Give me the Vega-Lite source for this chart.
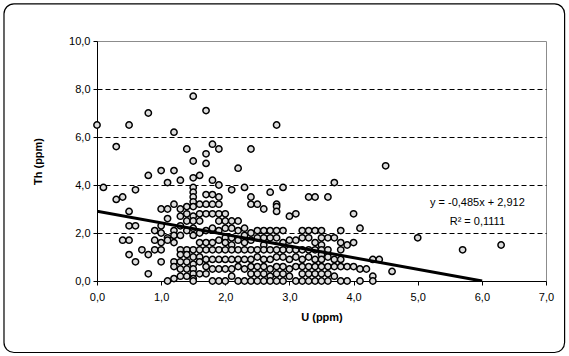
{
  "$schema": "https://vega.github.io/schema/vega-lite/v6.json",
  "width": 449,
  "height": 240,
  "autosize": {"type": "none"},
  "padding": {"left": 97, "top": 41, "right": 23, "bottom": 75},
  "background": "white",
  "config": {
    "view": {"stroke": "#8c8c8c", "strokeWidth": 1},
    "font": "Liberation Sans",
    "axis": {
      "domainColor": "black", "domainWidth": 1, "tickColor": "black", "tickSize": 4, "tickWidth": 1,
      "labelFont": "Liberation Sans", "labelFontSize": 11, "labelColor": "black",
      "titleFont": "Liberation Sans", "titleFontSize": 11, "titleFontWeight": "bold", "titleColor": "black",
      "labelOverlap": false, "labelFlush": false
    }
  },
  "datasets": {
    "pts": [
      {"U":0.0,"Th":6.5},{"U":0.1,"Th":3.9},{"U":0.3,"Th":5.6},{"U":0.3,"Th":3.4},{"U":0.4,"Th":3.5},{"U":0.4,"Th":1.7},
      {"U":0.5,"Th":6.5},{"U":0.5,"Th":2.9},{"U":0.5,"Th":2.3},{"U":0.5,"Th":1.7},{"U":0.5,"Th":1.1},
      {"U":0.6,"Th":3.8},{"U":0.6,"Th":2.3},{"U":0.6,"Th":0.8},{"U":0.7,"Th":1.3},
      {"U":0.8,"Th":7.0},{"U":0.8,"Th":4.4},{"U":0.8,"Th":1.1},{"U":0.8,"Th":0.3},
      {"U":0.9,"Th":2.1},{"U":0.9,"Th":1.7},{"U":0.9,"Th":1.3},
      {"U":1.0,"Th":4.6},{"U":1.0,"Th":3.0},{"U":1.0,"Th":2.3},{"U":1.0,"Th":2.0},{"U":1.0,"Th":1.6},{"U":1.0,"Th":1.3},{"U":1.0,"Th":0.8},
      {"U":1.1,"Th":4.1},{"U":1.1,"Th":3.0},{"U":1.1,"Th":2.6},{"U":1.1,"Th":1.8},{"U":1.1,"Th":1.7},{"U":1.1,"Th":0.0},
      {"U":1.2,"Th":6.2},{"U":1.2,"Th":4.6},{"U":1.2,"Th":3.2},{"U":1.2,"Th":2.1},{"U":1.2,"Th":1.9},{"U":1.2,"Th":1.6},{"U":1.2,"Th":0.8},{"U":1.2,"Th":0.6},{"U":1.2,"Th":0.1},
      {"U":1.3,"Th":4.2},{"U":1.3,"Th":3.0},{"U":1.3,"Th":2.7},{"U":1.3,"Th":2.3},{"U":1.3,"Th":1.9},{"U":1.3,"Th":1.3},{"U":1.3,"Th":1.1},{"U":1.3,"Th":0.8},{"U":1.3,"Th":0.5},{"U":1.3,"Th":0.2},
      {"U":1.4,"Th":5.5},{"U":1.4,"Th":3.1},{"U":1.4,"Th":2.8},{"U":1.4,"Th":2.5},{"U":1.4,"Th":2.1},{"U":1.4,"Th":1.3},{"U":1.4,"Th":1.1},{"U":1.4,"Th":0.8},{"U":1.4,"Th":0.5},{"U":1.4,"Th":0.2},
      {"U":1.5,"Th":7.7},{"U":1.5,"Th":5.0},{"U":1.5,"Th":4.3},{"U":1.5,"Th":3.9},{"U":1.5,"Th":3.7},{"U":1.5,"Th":3.5},{"U":1.5,"Th":3.3},{"U":1.5,"Th":3.1},{"U":1.5,"Th":2.7},{"U":1.5,"Th":2.5},{"U":1.5,"Th":2.2},{"U":1.5,"Th":1.9},{"U":1.5,"Th":1.3},{"U":1.5,"Th":1.0},{"U":1.5,"Th":0.7},{"U":1.5,"Th":0.5},{"U":1.5,"Th":0.3},{"U":1.5,"Th":0.1},{"U":1.5,"Th":0.0},
      {"U":1.6,"Th":4.4},{"U":1.6,"Th":3.2},{"U":1.6,"Th":2.8},{"U":1.6,"Th":2.5},{"U":1.6,"Th":2.0},{"U":1.6,"Th":1.6},{"U":1.6,"Th":1.3},{"U":1.6,"Th":1.0},{"U":1.6,"Th":0.8},{"U":1.6,"Th":0.3},
      {"U":1.7,"Th":7.1},{"U":1.7,"Th":5.3},{"U":1.7,"Th":4.9},{"U":1.7,"Th":3.6},{"U":1.7,"Th":3.2},{"U":1.7,"Th":2.8},{"U":1.7,"Th":2.1},{"U":1.7,"Th":1.6},{"U":1.7,"Th":1.3},{"U":1.7,"Th":0.9},{"U":1.7,"Th":0.6},{"U":1.7,"Th":0.3},
      {"U":1.8,"Th":5.7},{"U":1.8,"Th":4.2},{"U":1.8,"Th":3.6},{"U":1.8,"Th":3.2},{"U":1.8,"Th":2.8},{"U":1.8,"Th":2.2},{"U":1.8,"Th":1.6},{"U":1.8,"Th":1.3},{"U":1.8,"Th":0.9},{"U":1.8,"Th":0.5},{"U":1.8,"Th":0.0},
      {"U":1.9,"Th":5.5},{"U":1.9,"Th":4.0},{"U":1.9,"Th":3.5},{"U":1.9,"Th":3.2},{"U":1.9,"Th":2.8},{"U":1.9,"Th":2.5},{"U":1.9,"Th":2.1},{"U":1.9,"Th":1.7},{"U":1.9,"Th":1.3},{"U":1.9,"Th":0.9},{"U":1.9,"Th":0.5},{"U":1.9,"Th":0.0},
      {"U":2.0,"Th":2.8},{"U":2.0,"Th":2.5},{"U":2.0,"Th":2.2},{"U":2.0,"Th":1.8},{"U":2.0,"Th":1.6},{"U":2.0,"Th":1.3},{"U":2.0,"Th":0.9},{"U":2.0,"Th":0.5},{"U":2.0,"Th":0.0},
      {"U":2.1,"Th":3.8},{"U":2.1,"Th":2.5},{"U":2.1,"Th":2.2},{"U":2.1,"Th":1.8},{"U":2.1,"Th":1.5},{"U":2.1,"Th":1.3},{"U":2.1,"Th":0.9},{"U":2.1,"Th":0.5},{"U":2.1,"Th":0.2},
      {"U":2.2,"Th":4.7},{"U":2.2,"Th":2.5},{"U":2.2,"Th":2.1},{"U":2.2,"Th":1.7},{"U":2.2,"Th":1.3},{"U":2.2,"Th":0.9},{"U":2.2,"Th":0.6},{"U":2.2,"Th":0.0},
      {"U":2.3,"Th":3.9},{"U":2.3,"Th":2.2},{"U":2.3,"Th":1.9},{"U":2.3,"Th":1.6},{"U":2.3,"Th":1.3},{"U":2.3,"Th":0.9},{"U":2.3,"Th":0.5},{"U":2.3,"Th":0.0},
      {"U":2.4,"Th":5.5},{"U":2.4,"Th":3.5},{"U":2.4,"Th":3.2},{"U":2.4,"Th":2.0},{"U":2.4,"Th":1.7},{"U":2.4,"Th":1.3},{"U":2.4,"Th":0.9},{"U":2.4,"Th":0.6},{"U":2.4,"Th":0.3},{"U":2.4,"Th":0.0},
      {"U":2.5,"Th":3.2},{"U":2.5,"Th":2.1},{"U":2.5,"Th":1.8},{"U":2.5,"Th":1.3},{"U":2.5,"Th":1.0},{"U":2.5,"Th":0.6},{"U":2.5,"Th":0.3},{"U":2.5,"Th":0.0},
      {"U":2.6,"Th":3.0},{"U":2.6,"Th":2.1},{"U":2.6,"Th":1.8},{"U":2.6,"Th":1.5},{"U":2.6,"Th":1.3},{"U":2.6,"Th":0.9},{"U":2.6,"Th":0.6},{"U":2.6,"Th":0.3},{"U":2.6,"Th":0.0},
      {"U":2.7,"Th":3.7},{"U":2.7,"Th":2.1},{"U":2.7,"Th":1.8},{"U":2.7,"Th":1.3},{"U":2.7,"Th":0.9},{"U":2.7,"Th":0.5},{"U":2.7,"Th":0.2},{"U":2.7,"Th":0.0},
      {"U":2.8,"Th":6.5},{"U":2.8,"Th":3.2},{"U":2.8,"Th":3.1},{"U":2.8,"Th":2.9},{"U":2.8,"Th":2.1},{"U":2.8,"Th":1.8},{"U":2.8,"Th":1.3},{"U":2.8,"Th":1.0},{"U":2.8,"Th":0.6},{"U":2.8,"Th":0.3},{"U":2.8,"Th":0.0},
      {"U":2.9,"Th":3.9},{"U":2.9,"Th":2.1},{"U":2.9,"Th":1.6},{"U":2.9,"Th":1.3},{"U":2.9,"Th":1.0},{"U":2.9,"Th":0.6},{"U":2.9,"Th":0.3},{"U":2.9,"Th":0.0},
      {"U":3.0,"Th":2.7},{"U":3.0,"Th":1.7},{"U":3.0,"Th":1.3},{"U":3.0,"Th":0.9},{"U":3.0,"Th":0.5},{"U":3.0,"Th":0.2},
      {"U":3.1,"Th":2.8},{"U":3.1,"Th":1.7},{"U":3.1,"Th":1.3},{"U":3.1,"Th":1.0},{"U":3.1,"Th":0.6},{"U":3.1,"Th":0.0},
      {"U":3.2,"Th":2.1},{"U":3.2,"Th":1.8},{"U":3.2,"Th":1.3},{"U":3.2,"Th":0.9},{"U":3.2,"Th":0.6},{"U":3.2,"Th":0.3},{"U":3.2,"Th":0.0},
      {"U":3.3,"Th":3.5},{"U":3.3,"Th":2.1},{"U":3.3,"Th":1.8},{"U":3.3,"Th":1.3},{"U":3.3,"Th":1.0},{"U":3.3,"Th":0.6},{"U":3.3,"Th":0.3},{"U":3.3,"Th":0.0},
      {"U":3.4,"Th":3.5},{"U":3.4,"Th":2.1},{"U":3.4,"Th":1.6},{"U":3.4,"Th":1.3},{"U":3.4,"Th":0.9},{"U":3.4,"Th":0.6},{"U":3.4,"Th":0.3},{"U":3.4,"Th":0.0},
      {"U":3.5,"Th":2.1},{"U":3.5,"Th":1.8},{"U":3.5,"Th":1.5},{"U":3.5,"Th":1.3},{"U":3.5,"Th":1.1},{"U":3.5,"Th":0.9},{"U":3.5,"Th":0.6},{"U":3.5,"Th":0.3},{"U":3.5,"Th":0.0},
      {"U":3.6,"Th":3.5},{"U":3.6,"Th":1.8},{"U":3.6,"Th":1.3},{"U":3.6,"Th":1.0},{"U":3.6,"Th":0.6},{"U":3.6,"Th":0.3},{"U":3.6,"Th":0.0},
      {"U":3.7,"Th":4.1},{"U":3.7,"Th":1.8},{"U":3.7,"Th":0.9},{"U":3.7,"Th":0.6},{"U":3.7,"Th":0.2},
      {"U":3.8,"Th":2.1},{"U":3.8,"Th":1.6},{"U":3.8,"Th":1.3},{"U":3.8,"Th":0.9},{"U":3.8,"Th":0.6},{"U":3.8,"Th":0.0},
      {"U":3.9,"Th":1.5},{"U":3.9,"Th":0.6},{"U":3.9,"Th":0.0},
      {"U":4.0,"Th":2.8},{"U":4.0,"Th":1.6},{"U":4.0,"Th":0.6},
      {"U":4.1,"Th":2.2},{"U":4.1,"Th":0.5},{"U":4.1,"Th":0.0},
      {"U":4.2,"Th":0.5},{"U":4.3,"Th":0.9},{"U":4.3,"Th":0.2},{"U":4.3,"Th":0.0},{"U":4.4,"Th":0.9},
      {"U":4.5,"Th":4.8},{"U":4.6,"Th":0.4},{"U":5.0,"Th":1.8},{"U":5.7,"Th":1.3},{"U":6.3,"Th":1.5}
    ],
    "trend": [{"U": 0, "Th": 2.912}, {"U": 6.004, "Th": 0}],
    "one": [{"k": 1}]
  },
  "layer": [
    {
      "data": {"name": "one"},
      "mark": {"type": "rect", "fill": "white", "fillOpacity": 0, "stroke": "black", "strokeWidth": 1.2, "cornerRadius": 10, "clip": false},
      "encoding": {
        "x": {"datum": -1.45, "type": "quantitative", "scale": {"domain": [0, 7]}},
        "x2": {"datum": 7.29},
        "y": {"datum": 11.55, "type": "quantitative", "scale": {"domain": [0, 10]}},
        "y2": {"datum": -2.98}
      }
    },
    {
      "data": {"name": "pts"},
      "mark": {"type": "point", "shape": "circle", "filled": true, "fill": "#dddddd", "stroke": "black", "strokeWidth": 1.5, "size": 40, "opacity": 1, "clip": false},
      "encoding": {
        "x": {
          "field": "U", "type": "quantitative",
          "scale": {"domain": [0, 7], "nice": false, "zero": false},
          "axis": {
            "title": "U (ppm)", "values": [0, 0.5, 1, 1.5, 2, 2.5, 3, 3.5, 4, 4.5, 5, 5.5, 6, 6.5, 7],
            "labelExpr": "datum.value % 1 === 0 ? replace(format(datum.value, '.1f'), '.', ',') : ''",
            "grid": false, "labelPadding": 6, "titlePadding": 9
          }
        },
        "y": {
          "field": "Th", "type": "quantitative",
          "scale": {"domain": [0, 10], "nice": false, "zero": false},
          "axis": {
            "title": "Th (ppm)", "values": [0, 1, 2, 3, 4, 5, 6, 7, 8, 9, 10],
            "labelExpr": "datum.value % 2 === 0 ? replace(format(datum.value, '.1f'), '.', ',') : ''",
            "grid": true, "gridColor": "black", "gridDash": [5, 3], "gridWidth": 1,
            "gridOpacity": {"condition": {"test": "datum.value % 2 === 1 || datum.value === 0 || datum.value === 10", "value": 0}, "value": 1},
            "labelPadding": 3, "titlePadding": 25
          }
        }
      }
    },
    {
      "data": {"name": "trend"},
      "mark": {"type": "line", "color": "black", "strokeWidth": 3, "clip": true},
      "encoding": {
        "x": {"field": "U", "type": "quantitative"},
        "y": {"field": "Th", "type": "quantitative"}
      }
    },
    {
      "data": {"name": "one"},
      "mark": {"type": "text", "text": "y = -0,485x + 2,912", "font": "Liberation Sans", "fontSize": 11, "align": "center", "baseline": "middle", "color": "black"},
      "encoding": {
        "x": {"datum": 5.93, "type": "quantitative"},
        "y": {"datum": 3.25, "type": "quantitative"}
      }
    },
    {
      "data": {"name": "one"},
      "mark": {"type": "text", "text": "R² = 0,1111", "font": "Liberation Sans", "fontSize": 11, "align": "center", "baseline": "middle", "color": "black"},
      "encoding": {
        "x": {"datum": 5.93, "type": "quantitative"},
        "y": {"datum": 2.47, "type": "quantitative"}
      }
    }
  ]
}
